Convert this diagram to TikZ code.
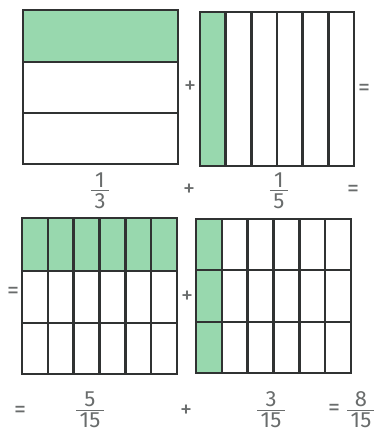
\documentclass[tikz,border=0pt]{standalone}
\usepackage{fontspec}
\setmainfont{Fira Sans}
\definecolor{cellgreen}{RGB}{152,216,174}
\definecolor{gridink}{RGB}{48,50,50}
\definecolor{signink}{RGB}{105,108,108}
% stacked fraction, rule a bit wider than the digits, centred on the rule
\newcommand{\frc}[2]{\vbox{\halign{\hfil##\hfil\cr\,#1\,\cr
    \noalign{\kern2.5pt\hrule height 1pt\kern2.5pt}\,#2\,\cr}}}

\begin{document}
\begin{tikzpicture}[x=1pt, y=-1pt,
    grid/.style={draw=gridink, line width=2.4pt},
    shaded/.style={fill=cellgreen},
    sign/.style={text=signink, inner sep=0pt, font=\fontsize{24}{26}\selectfont},
    frac/.style={text=signink, inner sep=0pt, font=\fontsize{22}{24}\selectfont}
]
    \useasboundingbox (0,0) rectangle (373,434);

    % 1. Top row: thirds and sixths (single strips)
    \fill[shaded] (23,10) rectangle (178,62);
    \foreach \y in {62,113}
        \draw[grid] (23,\y) -- (178,\y);
    \draw[grid] (23,10) rectangle (178,164);

    \fill[shaded] (200,12) rectangle (225.7,166);
    \foreach \i in {1,...,5}
        \draw[grid] (200+\i*25.67,12) -- (200+\i*25.67,166);
    \draw[grid] (200,12) rectangle (354,166);

    \node[sign] (plusA) at (190,87) {+};
    \node[sign] (eqA) at (364,90) {=};

    % 2. First fraction line
    \node[frac] (third) at (100,191) {\frc{1}{3}};
    \node[sign] (plusB) at (189,190) {+};
    \node[frac] (fifth) at (279,191) {\frc{1}{5}};
    \node[sign] (eqB) at (353,191) {=};

    % 3. Bottom row: both as fifteenths (3 rows x 6 columns)
    \fill[shaded] (22,218) rectangle (177,271);
    \foreach \i in {1,...,5}
        \draw[grid] (22+\i*25.83,218) -- (22+\i*25.83,374);
    \foreach \y in {271,323}
        \draw[grid] (22,\y) -- (177,\y);
    \draw[grid] (22,218) rectangle (177,374);

    \fill[shaded] (196,219) rectangle (221.8,373);
    \foreach \i in {1,...,5}
        \draw[grid] (196+\i*25.83,219) -- (196+\i*25.83,373);
    \foreach \y in {270,322}
        \draw[grid] (196,\y) -- (351,\y);
    \draw[grid] (196,219) rectangle (351,373);

    \node[sign] (eqC) at (13,293) {=};
    \node[sign] (plusC) at (187,297) {+};

    % 4. Result line
    \node[sign] (eqD) at (20,412) {=};
    \node[frac] (fiveq) at (90,410) {\frc{5}{15}};
    \node[sign] (plusD) at (186,411) {+};
    \node[frac] (threeq) at (271,410) {\frc{3}{15}};
    \node[sign] (eqE) at (334,410) {=};
    \node[frac] (eightq) at (361,410) {\frc{8}{15}};
\end{tikzpicture}
\end{document}
